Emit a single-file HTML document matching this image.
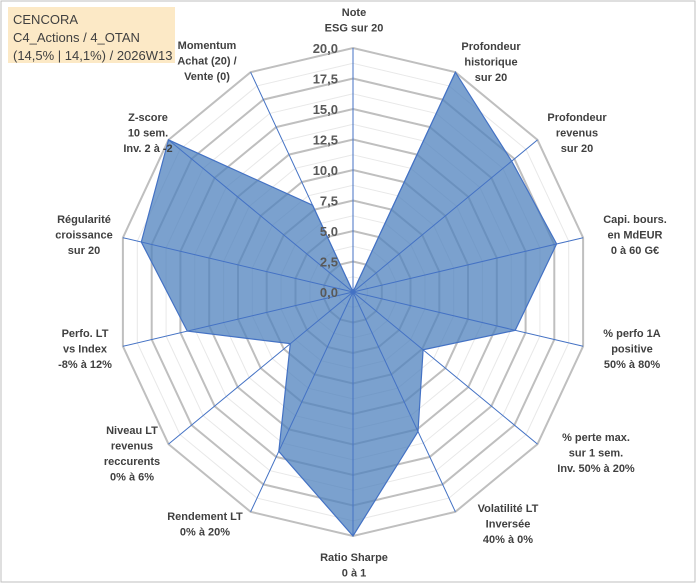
<!DOCTYPE html>
<html><head><meta charset="utf-8"><style>
html,body{margin:0;padding:0;background:#fff;}
svg{display:block;font-family:"Liberation Sans",Arial,sans-serif;}
.lbl{font-size:11px;font-weight:bold;fill:#404040;}
.tick{font-size:13px;font-weight:bold;fill:#595959;}
</style></head><body>
<svg id="chart" width="700" height="587" viewBox="0 0 700 587">
<rect x="1" y="1" width="694" height="581" fill="#fff" stroke="#bfbfbf" stroke-width="1"/>
<g id="grid"></g>
<g id="series"></g>
<g id="spokes"></g>
<g id="ticks"></g>
<g id="labels"></g>
<rect x="8" y="7" width="167" height="56" fill="#fce9c6"/>
<text x="13" y="24" font-size="13" fill="#404040">CENCORA</text>
<text x="13" y="42" font-size="13" fill="#404040">C4_Actions / 4_OTAN</text>
<text x="13" y="60" font-size="13" fill="#404040">(14,5% | 14,1%) / 2026W13</text>
</svg>
<script>
const categories = [
 ["Note","ESG sur 20"],
 ["Profondeur","historique","sur 20"],
 ["Profondeur","revenus","sur 20"],
 ["Capi. bours.","en MdEUR","0 à 60 G€"],
 ["% perfo 1A","positive","50% à 80%"],
 ["% perte max.","sur 1 sem.","Inv. 50% à 20%"],
 ["Volatilité LT","Inversée","40% à 0%"],
 ["Ratio Sharpe","0 à 1"],
 ["Rendement LT","0% à 20%"],
 ["Niveau LT","revenus","reccurents","0% à 6%"],
 ["Perfo. LT","vs Index","-8% à 12%"],
 ["Régularité","croissance","sur 20"],
 ["Z-score","10 sem.","Inv. 2 à -2"],
 ["Momentum","Achat (20) /","Vente (0)"]
];
const values = [0, 20, 17.2, 17.7, 14.1, 7.6, 12.7, 20, 14.5, 6.8, 14.4, 18.4, 20, 7.9];
const tickValues = [0, 2.5, 5, 7.5, 10, 12.5, 15, 17.5, 20];
const tickLabels = ["0,0","2,5","5,0","7,5","10,0","12,5","15,0","17,5","20,0"];

const NS="http://www.w3.org/2000/svg";
const cx=353, cy=292, RX=236, RY=244, vmax=20;
const labelPos=[[354,12],[491,46],[577,117],[635,219],[632,333],[596,437],[508,508],[354,557],[205,516],[132,430],[85,333],[84,219],[148,117],[207,45]];
const N=categories.length;
function ang(i){return i*2*Math.PI/N;}
function px(i,v){return cx+Math.sin(ang(i))*RX*v/vmax;}
function py(i,v){return cy-Math.cos(ang(i))*RY*v/vmax;}
function mk(tag,attrs,parent){const e=document.createElementNS(NS,tag);for(const k in attrs)e.setAttribute(k,attrs[k]);parent.appendChild(e);return e;}
function ringPts(v){let s=[];for(let i=0;i<N;i++)s.push(px(i,v).toFixed(1)+","+py(i,v).toFixed(1));return s.join(" ");}

const grid=document.getElementById('grid');
for(let k=1;k<tickValues.length;k++){
  const mid=(tickValues[k]+tickValues[k-1])/2;
  const m=mk('polygon',{points:ringPts(mid),fill:'none',stroke:'#e8e8e8','stroke-width':1},grid);
  
  
}
for(let k=1;k<tickValues.length;k++){
  const r=mk('polygon',{points:ringPts(tickValues[k]),fill:'none',stroke:'#bfbfbf','stroke-width':2},grid);
  
  
}
const series=document.getElementById('series');
let pts=[];for(let i=0;i<N;i++)pts.push(px(i,values[i]).toFixed(1)+","+py(i,values[i]).toFixed(1));
const poly=mk('polygon',{points:pts.join(" "),fill:'#4f81bd','fill-opacity':0.75,stroke:'#4472c4','stroke-width':1.2},series);


const spokes=document.getElementById('spokes');
for(let i=0;i<N;i++){
  const l=mk('line',{x1:cx,y1:cy,x2:px(i,vmax),y2:py(i,vmax),stroke:'#4472c4','stroke-width':1},spokes);
  
  
}
const ticks=document.getElementById('ticks');
for(let k=0;k<tickValues.length;k++){
  const t=mk('text',{x:338,y:cy-RY*tickValues[k]/vmax+5,'text-anchor':'end','class':'tick'},ticks);
  t.textContent=tickLabels[k];
  
  
}
const labels=document.getElementById('labels');
for(let i=0;i<N;i++){
  const lines=categories[i];
  for(let j=0;j<lines.length;j++){
    const t=mk('text',{x:labelPos[i][0],y:labelPos[i][1]+4+j*15.5,'text-anchor':'middle','class':'lbl'},labels);
    t.textContent=lines[j];
    
    
  }
}
</script>
</body></html>
